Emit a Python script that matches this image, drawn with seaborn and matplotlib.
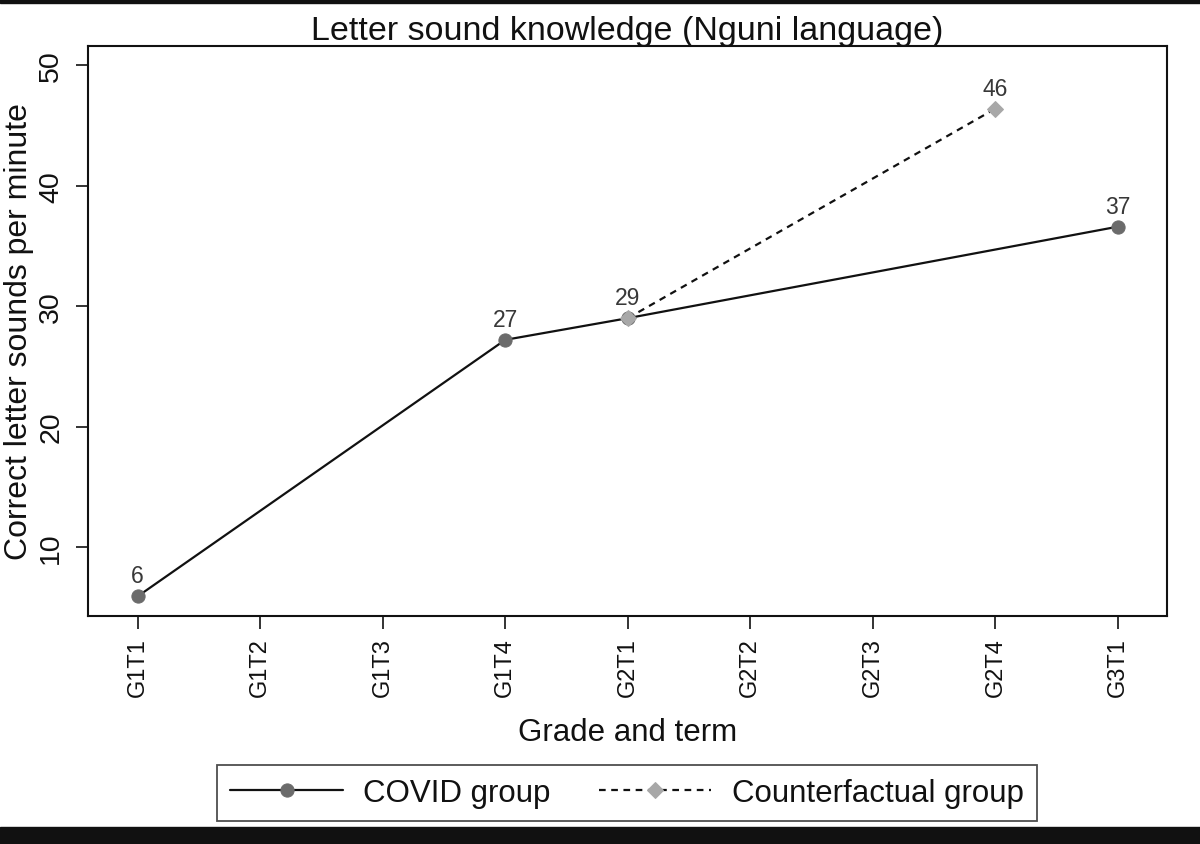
import matplotlib
matplotlib.use("Agg")
import matplotlib.pyplot as plt
from matplotlib.patches import Rectangle
import seaborn as sns
import pandas as pd

terms = ["G1T1", "G1T2", "G1T3", "G1T4", "G2T1", "G2T2", "G2T3", "G2T4", "G3T1"]

covid_terms = ["G1T1", "G1T4", "G2T1", "G3T1"]
covid_scores = [5.9, 27.2, 29.0, 36.6]

cf_terms = ["G2T1", "G2T4"]
cf_scores = [29.0, 46.4]

covid = pd.DataFrame({"pos": [terms.index(t) for t in covid_terms], "score": covid_scores})
cf = pd.DataFrame({"pos": [terms.index(t) for t in cf_terms], "score": cf_scores})

sns.set_style("white")
plt.rcParams["font.family"] = ["Liberation Sans", "DejaVu Sans"]
plt.rcParams["text.color"] = "#111111"
plt.rcParams["axes.labelcolor"] = "#111111"
plt.rcParams["xtick.color"] = "#111111"
plt.rcParams["ytick.color"] = "#111111"

fig = plt.figure(figsize=(12, 8.45), dpi=100)
ax = fig.add_axes([0.0733, 0.2698, 0.8992, 0.6746])

sns.lineplot(data=covid, x="pos", y="score", ax=ax, color="#111111", lw=1.6,
             marker="o", markersize=9.5, markerfacecolor="#6b6b6b",
             markeredgecolor="#6b6b6b", label="COVID group")
sns.lineplot(data=cf, x="pos", y="score", ax=ax, color="#111111", lw=1.6,
             linestyle=(0, (3, 2.5)), marker="D", markersize=8.5,
             markerfacecolor="#a8a8a8", markeredgecolor="#a8a8a8",
             label="Counterfactual group")

# value labels (the shared G2T1 point is labelled once)
labelled = set()
for df in (covid, cf):
    for x, y in zip(df["pos"], df["score"]):
        if x in labelled:
            continue
        labelled.add(x)
        ax.annotate(f"{y:.0f}", (x, y), xytext=(0, 6.5), textcoords="offset points",
                    ha="center", va="bottom", fontsize=16.5, color="#383838")

ax.set_xlim(-0.405, 8.40)
ax.set_ylim(4.27, 51.6)
ax.set_xticks(range(len(terms)))
ax.set_xticklabels(terms, rotation=90, fontsize=17)
ax.set_yticks([10, 20, 30, 40, 50])
ax.set_yticklabels(["10", "20", "30", "40", "50"], rotation=90, va="center", fontsize=20.5)
ax.tick_params(axis="both", direction="out", length=9, width=1.4, color="#333333",
               bottom=True, left=True)
ax.tick_params(axis="x", pad=6)
ax.tick_params(axis="y", pad=8)

for s in ax.spines.values():
    s.set_color("#111111")
    s.set_linewidth(1.5)

ax.set_xlabel("Grade and term", fontsize=22.5, labelpad=15)
ax.set_ylabel("Correct letter sounds per minute", fontsize=23, labelpad=3)
ax.set_title("Letter sound knowledge (Nguni language)", fontsize=24.5, pad=5)

handles, labels = ax.get_legend_handles_labels()
ax.get_legend().remove()
leg = fig.legend(handles, labels, loc="center", bbox_to_anchor=(0.5225, 0.0604),
                 ncol=2, fontsize=22.5, frameon=True, fancybox=False,
                 handlelength=3.6, handletextpad=0.65, columnspacing=1.55,
                 borderpad=0.42)
leg.get_frame().set_edgecolor("#222222")
leg.get_frame().set_linewidth(1.3)

fig.add_artist(Rectangle((0, 0), 1, 17 / 845, transform=fig.transFigure, color="#111111"))
fig.add_artist(Rectangle((0, 1 - 4 / 845), 1, 4 / 845, transform=fig.transFigure, color="#111111"))

fig.savefig("out.png", dpi=100)
